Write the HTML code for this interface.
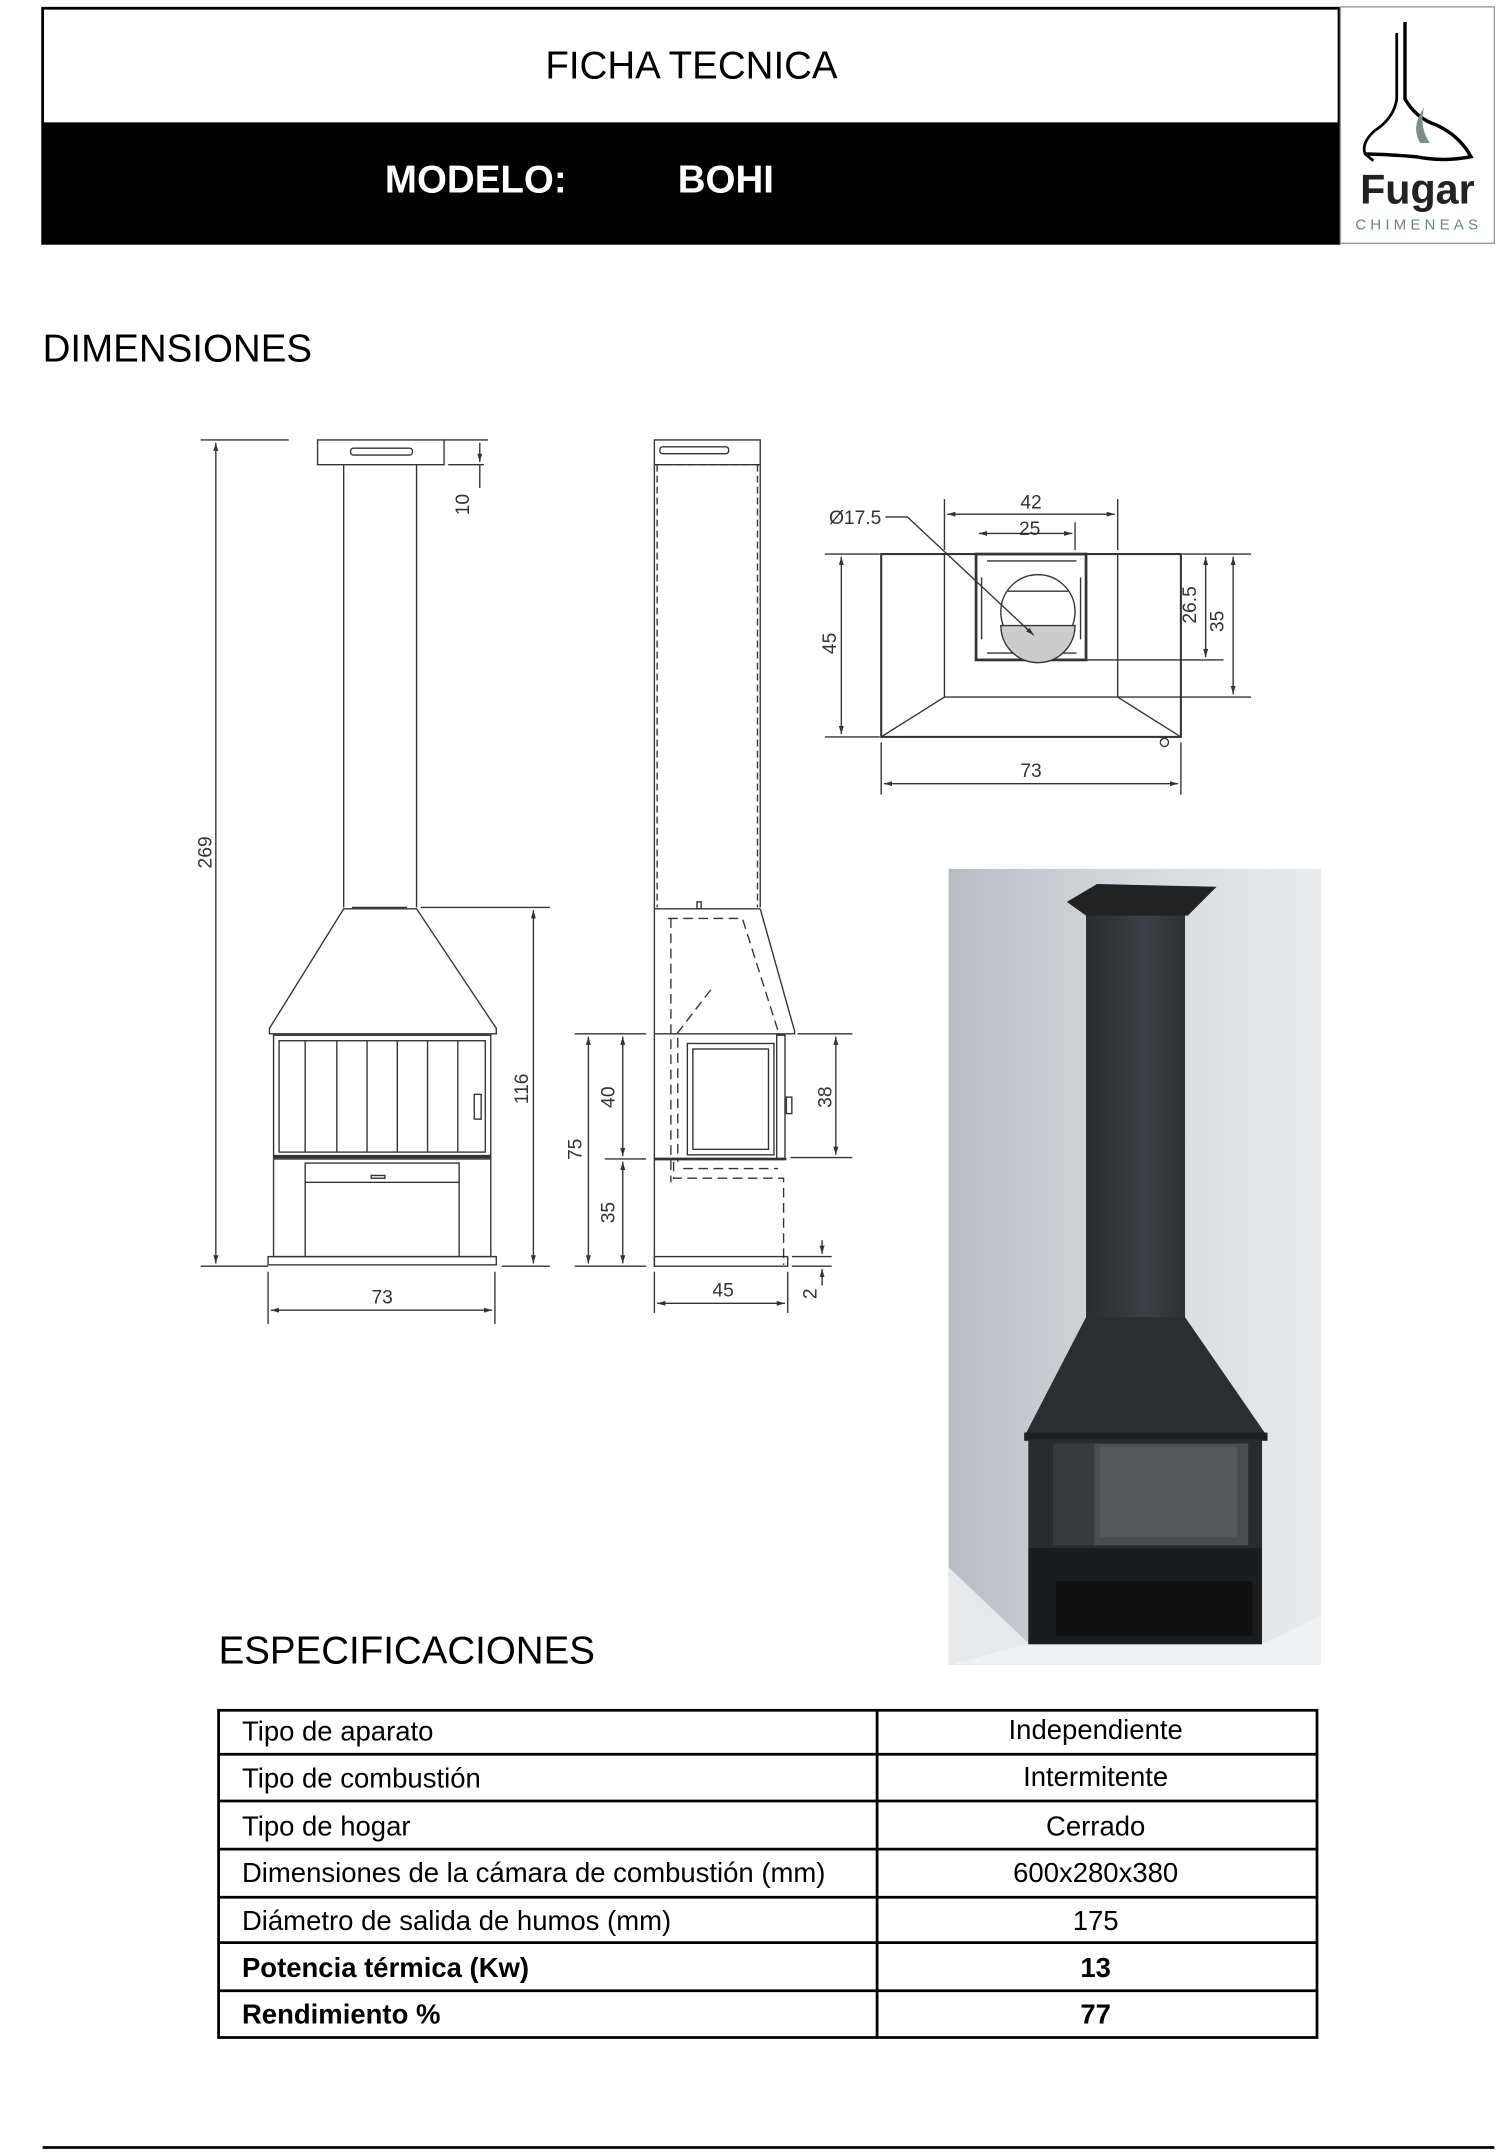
<!DOCTYPE html>
<html><head><meta charset="utf-8"><style>
html,body{margin:0;padding:0;background:#fff}
svg{display:block}
text{font-family:"Liberation Sans",sans-serif}
</style></head><body>
<svg width="1503" height="2156" viewBox="0 0 1093.3 1568.2" preserveAspectRatio="none" xmlns="http://www.w3.org/2000/svg">
<defs>
<linearGradient id="wall" x1="0" x2="1" y1="0" y2="0"><stop offset="0" stop-color="#b9bdc2"/><stop offset="0.5" stop-color="#d6d9dc"/><stop offset="1" stop-color="#e8eaec"/></linearGradient>
<linearGradient id="chim" x1="0" x2="1"><stop offset="0" stop-color="#2a2c2f"/><stop offset="0.6" stop-color="#3c3f43"/><stop offset="1" stop-color="#2e3034"/></linearGradient>
<marker id="a" viewBox="0 0 10 10" refX="10" refY="5" markerWidth="6" markerHeight="6" orient="auto-start-reverse"><path d="M0,2 L10,5 L0,8z" fill="#333"/></marker>
</defs>
<!-- header -->
<rect x="31" y="6" width="943" height="171" fill="none" stroke="#000" stroke-width="2"/>
<rect x="31" y="89" width="943" height="88" fill="#000"/>
<text x="503" y="57" font-size="28" text-anchor="middle">FICHA TECNICA</text>
<text x="280" y="140" font-size="28" font-weight="bold" fill="#fff">MODELO:</text>
<text x="493" y="140" font-size="28" font-weight="bold" fill="#fff">BOHI</text>
<rect x="975" y="5" width="112" height="172" fill="#fff" stroke="#999" stroke-width="1"/>
<path d="M1016,24 L1016,72 Q1014,86 1000,95 Q990,104 993,112 L999,117" fill="none" stroke="#000" stroke-width="2"/>
<path d="M1022,16 L1022,72 Q1030,86 1045,91 Q1062,99 1070,114 Q1050,118 1030,114 Q1005,112 993,112" fill="none" stroke="#000" stroke-width="2.5"/>
<path d="M1033,104 Q1026,92 1036,78 Q1032,92 1040,104z" fill="#7a8c88"/>
<text x="1031" y="148" font-size="30" font-weight="bold" text-anchor="middle" fill="#222" font-family="DejaVu Sans, sans-serif">Fugar</text>
<text x="1032" y="167" font-size="11" text-anchor="middle" fill="#6b8580" letter-spacing="3">CHIMENEAS</text>
<text x="31" y="263" font-size="28">DIMENSIONES</text>

<g stroke="#333" stroke-width="1" fill="none">
<!-- front view -->
<rect x="231" y="320" width="92" height="18"/>
<rect x="255" y="326" width="45" height="5" rx="2"/>
<line x1="250" y1="338" x2="250" y2="660"/><line x1="303" y1="338" x2="303" y2="660"/>
<line x1="256" y1="660" x2="296" y2="660"/>
<path d="M250,661 L303,661 L361,748 L361,752 L196,752 L196,748 Z"/>
<rect x="199" y="753" width="158" height="89"/>
<rect x="203" y="757" width="150" height="81"/>
<line x1="222" y1="757" x2="222" y2="838"/><line x1="245" y1="757" x2="245" y2="838"/><line x1="267" y1="757" x2="267" y2="838"/><line x1="289" y1="757" x2="289" y2="838"/><line x1="311" y1="757" x2="311" y2="838"/><line x1="333" y1="757" x2="333" y2="838"/>
<rect x="345" y="796" width="5" height="18"/>
<line x1="199" y1="841" x2="357" y2="841" stroke-width="2"/>
<rect x="199" y="843" width="158" height="71"/>
<rect x="222" y="846" width="112" height="14"/>
<rect x="270" y="855" width="10" height="2"/>
<line x1="222" y1="860" x2="222" y2="914"/><line x1="334" y1="860" x2="334" y2="914"/>
<rect x="195" y="914" width="166" height="6"/>
<!-- front dims -->
<line x1="146" y1="320" x2="210" y2="320"/><line x1="146" y1="921" x2="195" y2="921"/>
<line x1="157" y1="322" x2="157" y2="919" marker-start="url(#a)" marker-end="url(#a)"/>
<line x1="323" y1="320" x2="355" y2="320"/><line x1="326" y1="338" x2="352" y2="338"/>
<line x1="349" y1="322" x2="349" y2="336" marker-end="url(#a)"/><line x1="349" y1="338" x2="349" y2="355"/>
<line x1="306" y1="660" x2="400" y2="660"/><line x1="365" y1="921" x2="400" y2="921"/>
<line x1="388" y1="662" x2="388" y2="919" marker-start="url(#a)" marker-end="url(#a)"/>
<line x1="195" y1="925" x2="195" y2="963"/><line x1="360" y1="925" x2="360" y2="963"/>
<line x1="197" y1="953" x2="358" y2="953" marker-start="url(#a)" marker-end="url(#a)"/>
<!-- side view -->
<rect x="476" y="320" width="77" height="18"/>
<rect x="480" y="325" width="50" height="5" rx="2"/>
<line x1="476" y1="338" x2="553" y2="338" stroke-dasharray="5,3"/>
<line x1="476" y1="338" x2="476" y2="921"/><line x1="553" y1="338" x2="553" y2="660"/>
<line x1="478" y1="338" x2="478" y2="660" stroke-dasharray="5,3"/><line x1="551" y1="338" x2="551" y2="660" stroke-dasharray="5,3"/>
<rect x="507" y="656" width="3" height="5"/>
<line x1="476" y1="661" x2="553" y2="661"/>
<path d="M553,661 L578,750 L578,752 L476,752"/>
<path d="M486,668 L540,668 L566,750" stroke-dasharray="7,4"/>
<line x1="488" y1="668" x2="488" y2="860" stroke-dasharray="7,4"/>
<line x1="517" y1="720" x2="490" y2="755" stroke-dasharray="7,4"/>
<rect x="500" y="759" width="63" height="81"/><rect x="504" y="763" width="55" height="73"/>
<rect x="565" y="753" width="6" height="90"/>
<rect x="572" y="798" width="4" height="12"/>
<line x1="493" y1="755" x2="493" y2="845" stroke-dasharray="7,4"/>
<line x1="476" y1="843" x2="572" y2="843" stroke-width="2"/>
<path d="M490,845 L490,857 L570,857 L570,920" stroke-dasharray="7,4"/>
<line x1="497" y1="850" x2="566" y2="850" stroke-dasharray="7,4"/>
<rect x="476" y="914" width="97" height="7"/>
<!-- side dims -->
<line x1="418" y1="752" x2="470" y2="752"/><line x1="418" y1="921" x2="470" y2="921"/><line x1="440" y1="843" x2="470" y2="843"/>
<line x1="428" y1="754" x2="428" y2="919" marker-start="url(#a)" marker-end="url(#a)"/>
<line x1="453" y1="754" x2="453" y2="841" marker-start="url(#a)" marker-end="url(#a)"/>
<line x1="453" y1="845" x2="453" y2="919" marker-start="url(#a)" marker-end="url(#a)"/>
<line x1="580" y1="752" x2="620" y2="752"/><line x1="575" y1="842" x2="620" y2="842"/>
<line x1="608" y1="754" x2="608" y2="840" marker-start="url(#a)" marker-end="url(#a)"/>
<line x1="576" y1="914" x2="605" y2="914"/><line x1="576" y1="921" x2="605" y2="921"/>
<line x1="598" y1="902" x2="598" y2="912" marker-end="url(#a)"/><line x1="598" y1="935" x2="598" y2="923" marker-end="url(#a)"/>
<line x1="476" y1="925" x2="476" y2="955"/><line x1="573" y1="925" x2="573" y2="955"/>
<line x1="478" y1="948" x2="571" y2="948" marker-start="url(#a)" marker-end="url(#a)"/>
<!-- top view -->
<rect x="641" y="403" width="218" height="133" stroke-width="1.5"/>
<rect x="687" y="403" width="126" height="104"/>
<rect x="710" y="403" width="80" height="77" stroke-width="2"/>
<line x1="718" y1="408" x2="783" y2="408"/><line x1="718" y1="475" x2="783" y2="475"/>
<line x1="714" y1="420" x2="714" y2="465"/><line x1="786" y1="420" x2="786" y2="465"/>
<circle cx="755" cy="445" r="27"/>
<line x1="733" y1="430" x2="777" y2="430"/>
<path d="M728,455 L782,455 A27,27 0 0 1 728,455z" fill="#ccc"/>
<line x1="641" y1="536" x2="687" y2="507"/><line x1="859" y1="536" x2="813" y2="507"/>
<circle cx="847" cy="540" r="3"/>
<line x1="644" y1="376" x2="654" y2="376"/><path d="M654,376 L660,376 L752,462" marker-end="url(#a)"/>
<line x1="687" y1="363" x2="687" y2="400"/><line x1="813" y1="363" x2="813" y2="400"/>
<line x1="689" y1="374" x2="811" y2="374" marker-start="url(#a)" marker-end="url(#a)"/>
<line x1="782" y1="380" x2="782" y2="400"/>
<line x1="712" y1="388" x2="780" y2="388" marker-start="url(#a)" marker-end="url(#a)"/>
<line x1="600" y1="403" x2="640" y2="403"/><line x1="600" y1="536" x2="640" y2="536"/>
<line x1="612" y1="405" x2="612" y2="534" marker-start="url(#a)" marker-end="url(#a)"/>
<line x1="860" y1="403" x2="910" y2="403"/><line x1="790" y1="480" x2="890" y2="480"/><line x1="813" y1="507" x2="910" y2="507"/>
<line x1="877" y1="405" x2="877" y2="478" marker-start="url(#a)" marker-end="url(#a)"/>
<line x1="897" y1="405" x2="897" y2="505" marker-start="url(#a)" marker-end="url(#a)"/>
<line x1="641" y1="540" x2="641" y2="578"/><line x1="859" y1="540" x2="859" y2="578"/>
<line x1="643" y1="570" x2="857" y2="570" marker-start="url(#a)" marker-end="url(#a)"/>
</g>
<g fill="#333" font-size="14">
<text x="150" y="620" transform="rotate(-90 150 620)" text-anchor="middle" dy="4">269</text>
<text x="337" y="367" transform="rotate(-90 337 367)" text-anchor="middle" dy="4">10</text>
<text x="380" y="792" transform="rotate(-90 380 792)" text-anchor="middle" dy="4">116</text>
<text x="278" y="948" text-anchor="middle">73</text>
<text x="419" y="836" transform="rotate(-90 419 836)" text-anchor="middle" dy="4">75</text>
<text x="443" y="798" transform="rotate(-90 443 798)" text-anchor="middle" dy="4">40</text>
<text x="443" y="882" transform="rotate(-90 443 882)" text-anchor="middle" dy="4">35</text>
<text x="601" y="798" transform="rotate(-90 601 798)" text-anchor="middle" dy="4">38</text>
<text x="590" y="941" transform="rotate(-90 590 941)" text-anchor="middle" dy="4">2</text>
<text x="526" y="943" text-anchor="middle">45</text>
<text x="603" y="381">Ø17.5</text>
<text x="750" y="370" text-anchor="middle">42</text>
<text x="749" y="389" text-anchor="middle">25</text>
<text x="604" y="468" transform="rotate(-90 604 468)" text-anchor="middle" dy="4">45</text>
<text x="866" y="440" transform="rotate(-90 866 440)" text-anchor="middle" dy="4">26.5</text>
<text x="886" y="452" transform="rotate(-90 886 452)" text-anchor="middle" dy="4">35</text>
<text x="750" y="565" text-anchor="middle">73</text>
</g>
<!-- photo -->
<rect x="690" y="632" width="271" height="579" fill="url(#wall)"/>
<path d="M690,1140 L748,1195 L690,1211z" fill="#e6e8ea"/>
<path d="M748,1195 L920,1195 L961,1175 L961,1211 L690,1211z" fill="#eef0f1"/>
<rect x="790" y="665" width="72" height="295" fill="url(#chim)"/>
<path d="M776,656 L798,643 L885,645 L864,666 L790,666z" fill="#222"/>
<path d="M790,958 L862,958 L922,1045 L745,1045z" fill="#2b2d30"/>
<rect x="745" y="1042" width="177" height="6" fill="#1e1f21"/>
<rect x="748" y="1047" width="170" height="80" fill="#2a2b2d"/>
<rect x="768" y="1050" width="140" height="74" fill="#4a4c4f"/>
<rect x="800" y="1052" width="100" height="66" fill="#555759"/>
<rect x="766" y="1050" width="30" height="74" fill="#38393b"/>
<rect x="748" y="1126" width="170" height="70" fill="#1c1d1f"/>
<rect x="768" y="1150" width="143" height="40" fill="#111"/>
<text x="159" y="1210" font-size="28">ESPECIFICACIONES</text>
<!-- table -->
<g stroke="#000" stroke-width="2" fill="none">
<rect x="159" y="1244" width="799" height="238"/>
<line x1="638" y1="1244" x2="638" y2="1482"/>
<line x1="159" y1="1276" x2="958" y2="1276"/><line x1="159" y1="1310" x2="958" y2="1310"/><line x1="159" y1="1345" x2="958" y2="1345"/><line x1="159" y1="1380" x2="958" y2="1380"/><line x1="159" y1="1413" x2="958" y2="1413"/><line x1="159" y1="1448" x2="958" y2="1448"/>
</g>
<g font-size="20" fill="#000">
<text x="176" y="1266">Tipo de aparato</text><text x="797" y="1265" text-anchor="middle">Independiente</text>
<text x="176" y="1300">Tipo de combustión</text><text x="797" y="1299" text-anchor="middle">Intermitente</text>
<text x="176" y="1335">Tipo de hogar</text><text x="797" y="1335" text-anchor="middle">Cerrado</text>
<text x="176" y="1369">Dimensiones de la cámara de combustión (mm)</text><text x="797" y="1369" text-anchor="middle">600x280x380</text>
<text x="176" y="1404">Diámetro de salida de humos (mm)</text><text x="797" y="1404" text-anchor="middle">175</text>
<text x="176" y="1438" font-weight="bold">Potencia térmica (Kw)</text><text x="797" y="1438" text-anchor="middle" font-weight="bold">13</text>
<text x="176" y="1472" font-weight="bold">Rendimiento %</text><text x="797" y="1472" text-anchor="middle" font-weight="bold">77</text>
</g>
<line x1="31" y1="1562" x2="1087" y2="1562" stroke="#000" stroke-width="2"/>
</svg>
</body></html>
